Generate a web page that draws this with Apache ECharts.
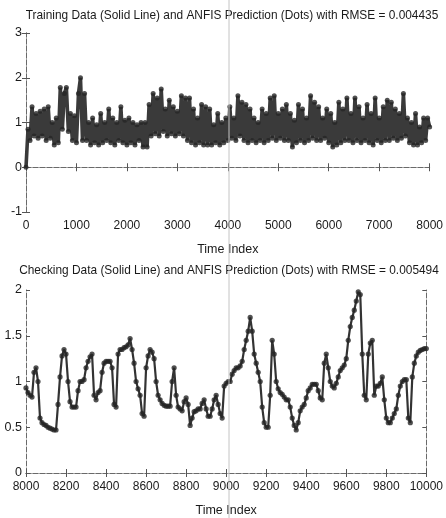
<!DOCTYPE html>
<html>
<head>
<meta charset="utf-8">
<script src="https://cdn.jsdelivr.net/npm/echarts@6/dist/echarts.min.js"></script>
<style>
html,body{margin:0;padding:0;background:#fff;}
#c{width:446px;height:518px;}
</style>
</head>
<body>
<div id="c"></div>
<script>
// ---- data ----
const trainTitle = 'Training Data (Solid Line) and ANFIS Prediction (Dots) with RMSE = 0.004435';
const checkTitle = 'Checking Data (Solid Line) and ANFIS Prediction (Dots) with RMSE = 0.005494';
const trainStart = 0, trainStep = 40;
const trainValues = [
 0.0, 0.85, 0.6, 1.35, 0.7, 1.2, 0.65, 1.25, 0.7, 1.3,
 0.6, 1.35, 0.65, 1.0, 0.5, 1.1, 0.55, 1.78, 0.85, 1.65,
 1.78, 0.8, 1.2, 0.6, 1.15, 0.55, 1.65, 2.0, 0.6, 1.65,
 0.6, 1.0, 0.5, 1.1, 0.55, 0.95, 0.5, 1.2, 0.55, 1.0,
 0.6, 1.3, 0.55, 1.1, 0.5, 1.0, 0.6, 1.35, 0.55, 1.05,
 0.5, 1.1, 0.55, 1.0, 0.5, 0.95, 0.6, 1.0, 0.45, 1.0,
 0.45, 1.4, 0.7, 1.65, 0.75, 1.55, 0.7, 1.75, 0.8, 1.3,
 0.7, 1.5, 0.75, 1.35, 0.7, 1.25, 0.75, 1.6, 0.7, 1.55,
 0.6, 1.55, 0.55, 1.3, 0.5, 1.1, 0.55, 1.4, 0.5, 1.35,
 0.5, 1.3, 0.5, 0.95, 0.55, 1.2, 0.5, 1.0, 0.55, 1.1,
 0.6, 1.35, 0.65, 1.1, 0.6, 1.6, 0.7, 1.45, 0.6, 1.4,
 0.55, 1.3, 0.6, 1.1, 0.55, 1.0, 0.6, 1.3, 0.55, 1.2,
 0.6, 1.55, 0.65, 1.6, 0.6, 1.2, 0.65, 1.3, 0.6, 1.4,
 0.6, 1.2, 0.45, 1.05, 0.55, 1.4, 0.6, 1.3, 0.55, 1.1,
 0.6, 1.6, 0.65, 1.45, 0.6, 1.35, 0.6, 1.1, 0.65, 1.3,
 0.55, 1.2, 0.45, 1.0, 0.5, 1.45, 0.55, 1.3, 0.6, 1.55,
 0.6, 1.2, 0.55, 1.55, 0.6, 1.35, 0.55, 1.1, 0.6, 1.4,
 0.55, 1.2, 0.5, 1.55, 0.6, 1.1, 0.55, 1.35, 0.6, 1.5,
 0.6, 1.45, 0.65, 1.3, 0.6, 1.2, 0.65, 1.65, 0.7, 1.1,
 0.55, 1.0, 0.5, 1.2, 0.5, 0.9, 0.55, 1.1, 0.6, 1.1,
 0.9
];
const checkStart = 8000, checkStep = 10;
const checkValues = [
 0.93, 0.88, 0.85, 0.83, 1.1, 1.15, 1.0, 0.6, 0.55, 0.53,
 0.52, 0.5, 0.49, 0.48, 0.47, 0.47, 0.75, 1.05, 1.28, 1.35,
 1.3, 1.0, 0.78, 0.72, 0.72, 0.72, 0.9, 1.0, 1.0, 1.02,
 1.15, 1.22, 1.27, 1.3, 0.85, 0.8, 0.88, 0.9, 1.1, 1.2,
 1.22, 1.22, 1.22, 1.15, 0.75, 0.72, 1.3, 1.35, 1.35, 1.37,
 1.38, 1.4, 1.47, 1.35, 1.2, 1.0, 0.92, 0.85, 0.65, 0.62,
 1.15, 1.28, 1.35, 1.32, 1.25, 1.0, 0.85, 0.8, 0.76, 0.74,
 0.73, 0.73, 0.73, 1.0, 1.15, 0.85, 0.72, 0.7, 0.68, 0.78,
 0.82, 0.75, 0.52, 0.6, 0.67, 0.68, 0.7, 0.7, 0.76, 0.8,
 0.7, 0.62, 0.62, 0.7, 0.8, 0.85, 0.75, 0.65, 0.6, 0.95,
 0.98, 1.0, 1.0, 1.08, 1.12, 1.15, 1.15, 1.17, 1.22, 1.35,
 1.45, 1.55, 1.7, 1.55, 1.3, 1.2, 1.1, 1.0, 0.72, 0.55,
 0.5, 0.5, 0.85, 1.45, 1.3, 1.0, 0.92, 0.88, 0.86, 0.83,
 0.8, 0.8, 0.72, 0.6, 0.52, 0.47, 0.55, 0.68, 0.72, 0.75,
 0.82, 0.9, 0.93, 0.97, 0.97, 0.97, 0.9, 0.82, 0.8, 1.2,
 1.3, 1.15, 1.0, 0.95, 0.93, 0.98, 1.05, 1.12, 1.15, 1.18,
 1.25, 1.45, 1.6, 1.7, 1.78, 1.88, 1.98, 1.95, 1.3, 0.85,
 0.8, 1.3, 1.42, 1.45, 0.85, 0.95, 0.95, 0.98, 1.05, 0.8,
 0.6, 0.55, 0.55, 0.6, 0.65, 0.7, 0.85, 0.95, 1.0, 1.02,
 1.02, 0.6, 0.55, 1.05, 1.2, 1.28, 1.32, 1.34, 1.35, 1.36,
 1.36
];
const trainXTicks = {min: 0, max: 8000, interval: 1000};
const trainYTicks = {min: -1, max: 3, interval: 1};
const checkXTicks = {min: 8000, max: 10000, interval: 200};
const checkYTicks = {min: 0, max: 2, interval: 0.5};
const xName = 'Time Index';

// ---- build ----
const toPairs = (start, step, vals) => vals.map((v, i) => [start + i * step, v]);
const trainData = toPairs(trainStart, trainStep, trainValues);
const checkData = toPairs(checkStart, checkStep, checkValues);

const FONT = '"Liberation Sans", Arial, sans-serif';
const TXT = '#1a1a1a';
const BORDER = {show: true, lineStyle: {color: '#6a6a6a', width: 1, type: [5, 2]}};
const TICK = {show: true, inside: true, length: 4, lineStyle: {color: '#555'}};

function xAxes(ticks, gridIndex) {
  return [
    {type: 'value', gridIndex, position: 'bottom', min: ticks.min, max: ticks.max, interval: ticks.interval,
     axisLine: BORDER, axisTick: TICK,
     axisLabel: {color: TXT, fontFamily: FONT, fontSize: 12, margin: 8, formatter: v => String(v)},
     splitLine: {show: false},
     name: xName, nameLocation: 'middle', nameGap: 31,
     nameTextStyle: {color: TXT, fontFamily: FONT, fontSize: 12.5}},
    {type: 'value', gridIndex, position: 'top', min: ticks.min, max: ticks.max, interval: ticks.interval,
     axisLine: BORDER, axisTick: TICK, axisLabel: {show: false}, splitLine: {show: false}}
  ];
}
function yAxes(ticks, gridIndex) {
  return [
    {type: 'value', gridIndex, position: 'left', min: ticks.min, max: ticks.max, interval: ticks.interval,
     axisLine: BORDER, axisTick: TICK,
     axisLabel: {color: TXT, fontFamily: FONT, fontSize: 12.5, margin: 4, formatter: v => String(v)},
     splitLine: {show: false}},
    {type: 'value', gridIndex, position: 'right', min: ticks.min, max: ticks.max, interval: ticks.interval,
     axisLine: BORDER, axisTick: TICK, axisLabel: {show: false}, splitLine: {show: false}}
  ];
}

function seriesFor(data, xi, yi, lw, ss, lc) {
  return [
    {name: 'Data', type: 'line', xAxisIndex: xi, yAxisIndex: yi, data, showSymbol: false,
     lineStyle: {color: lc, width: lw}, silent: true, animation: false, z: 2},
    {name: 'ANFIS Prediction', type: 'scatter', xAxisIndex: xi, yAxisIndex: yi, data,
     symbol: 'circle', symbolSize: ss, itemStyle: {color: '#262626'},
     silent: true, animation: false, z: 3}
  ];
}

const chart = echarts.init(document.getElementById('c'), null, {renderer: 'canvas'});
chart.setOption({
  backgroundColor: '#ffffff',
  animation: false,
  grid: [
    {left: 26, right: 11, top: 33, height: 179},
    {left: 26, right: 12, top: 290, height: 183}
  ],
  xAxis: [...xAxes(trainXTicks, 0), ...xAxes(checkXTicks, 1)],
  yAxis: [...yAxes(trainYTicks, 0), ...yAxes(checkYTicks, 1)],
  series: [...seriesFor(trainData, 0, 0, 3.6, 5, '#3a3a3a'), ...seriesFor(checkData, 2, 2, 2.2, 5.2, '#333333')],
  graphic: [
    {type: 'text', x: 232, y: 15, scaleX: 0.88, silent: true,
     style: {text: trainTitle, fill: TXT, font: '13.5px ' + FONT, textAlign: 'center', textVerticalAlign: 'middle'}},
    {type: 'text', x: 229, y: 270, scaleX: 0.88, silent: true,
     style: {text: checkTitle, fill: TXT, font: '13.5px ' + FONT, textAlign: 'center', textVerticalAlign: 'middle'}},
    {type: 'line', shape: {x1: 229, y1: 0, x2: 229, y2: 518}, silent: true,
     style: {stroke: '#c4c4c4', lineWidth: 1}, z: 100}
  ]
});
</script>
</body>
</html>
